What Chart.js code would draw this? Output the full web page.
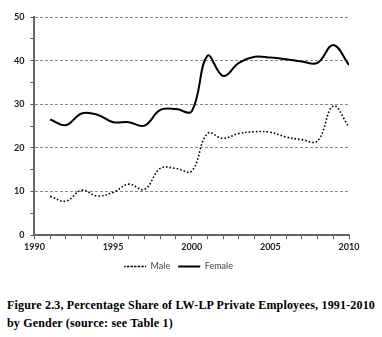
<!DOCTYPE html>
<html>
<head>
<meta charset="utf-8">
<script src="https://cdn.jsdelivr.net/npm/chart.js@4"></script>
<style>
  html, body { margin: 0; padding: 0; background: #fff; }
  body { width: 382px; height: 337px; position: relative; overflow: hidden; }
  #wrap { position: absolute; left: 0; top: 0; width: 382px; height: 281px; }
  .caption {
    position: absolute; left: 7px; white-space: nowrap;
    font-family: "Liberation Serif", "Times New Roman", serif;
    font-weight: bold; font-size: 12px; color: #000;
  }
</style>
</head>
<body>
<div id="wrap"><canvas id="chart"></canvas></div>
<div class="caption" id="cap1" style="top:298px">Figure 2.3, Percentage Share of LW-LP Private Employees, 1991-2010</div>
<div class="caption" id="cap2" style="top:316px">by Gender (source: see Table 1)</div>
<script>
// ====================
// DATA
// ====================
const years = [1991, 1992, 1993, 1994, 1995, 1996, 1997, 1998, 1999, 2000,
               2001, 2002, 2003, 2004, 2005, 2006, 2007, 2008, 2009, 2010];
const male = [8.9, 7.8, 10.3, 9.0, 9.8, 11.7, 10.5, 15.3, 15.3, 14.7,
              23.3, 22.2, 23.3, 23.7, 23.6, 22.5, 21.9, 21.6, 29.6, 24.8];
const female = [26.5, 25.2, 27.9, 27.6, 25.9, 25.9, 25.1, 28.7, 28.9, 28.4,
                41.1, 36.5, 39.5, 40.9, 40.7, 40.3, 39.8, 39.5, 43.6, 39.0];
const seriesNames = ['Male', 'Female'];
const xTickLabels = [1990, 1995, 2000, 2005, 2010];
const yTickLabels = [0, 10, 20, 30, 40, 50];

const tickFont = { family: 'Lato, "Open Sans", sans-serif', size: 9, weight: 'bold' };

function pts(vals) {
  return vals.map((v, i) => ({ x: years[i], y: v }));
}

// stretch caption line 1 to the reference width
const cap1 = document.getElementById('cap1');
const target = 368;
const w = cap1.getBoundingClientRect().width;
const chars = cap1.textContent.length;
cap1.style.letterSpacing = ((target - w) / chars) + 'px';
document.getElementById('cap2').style.letterSpacing = cap1.style.letterSpacing;

new Chart(document.getElementById('chart'), {
  type: 'line',
  data: {
    datasets: [{
      label: seriesNames[0],
      data: pts(male),
      borderColor: '#000',
      backgroundColor: 'transparent',
      borderWidth: 1.6,
      borderDash: [1.6, 2],
      pointRadius: 0,
      tension: 0.4
    }, {
      label: seriesNames[1],
      data: pts(female),
      borderColor: '#000',
      backgroundColor: 'transparent',
      borderWidth: 2,
      pointRadius: 0,
      tension: 0.4
    }]
  },
  options: {
    responsive: true,
    maintainAspectRatio: false,
    animation: false,
    layout: { padding: { left: 8, right: 33, top: 17, bottom: 0 } },
    plugins: {
      tooltip: { enabled: false },
      legend: {
        position: 'bottom',
        labels: {
          boxWidth: 22,
          boxHeight: 0,
          padding: 8,
          color: '#444',
          font: { family: 'Lato, "Open Sans", sans-serif', size: 9 }
        }
      }
    },
    scales: {
      x: {
        type: 'linear',
        min: xTickLabels[0],
        max: xTickLabels[xTickLabels.length - 1],
        ticks: {
          stepSize: 1,
          autoSkip: false,
          maxRotation: 0,
          color: '#222',
          font: tickFont,
          padding: 2,
          callback: v => xTickLabels.includes(v) ? String(v) : ''
        },
        grid: { color: 'transparent', tickColor: '#555', tickLength: 4 },
        border: { color: '#666', width: 2 }
      },
      y: {
        min: yTickLabels[0],
        max: yTickLabels[yTickLabels.length - 1],
        ticks: {
          stepSize: 5,
          color: '#222',
          font: tickFont,
          padding: 6,
          callback: v => yTickLabels.includes(v) ? String(v) : ''
        },
        grid: {
          color: ctx => (ctx.tick && ctx.tick.value % 10 === 0 && ctx.tick.value !== 0) ? '#888' : 'transparent',
          tickColor: '#555',
          tickLength: 4
        },
        border: { color: '#666', width: 2, dash: [3, 2] }
      }
    }
  }
});
</script>
</body>
</html>
